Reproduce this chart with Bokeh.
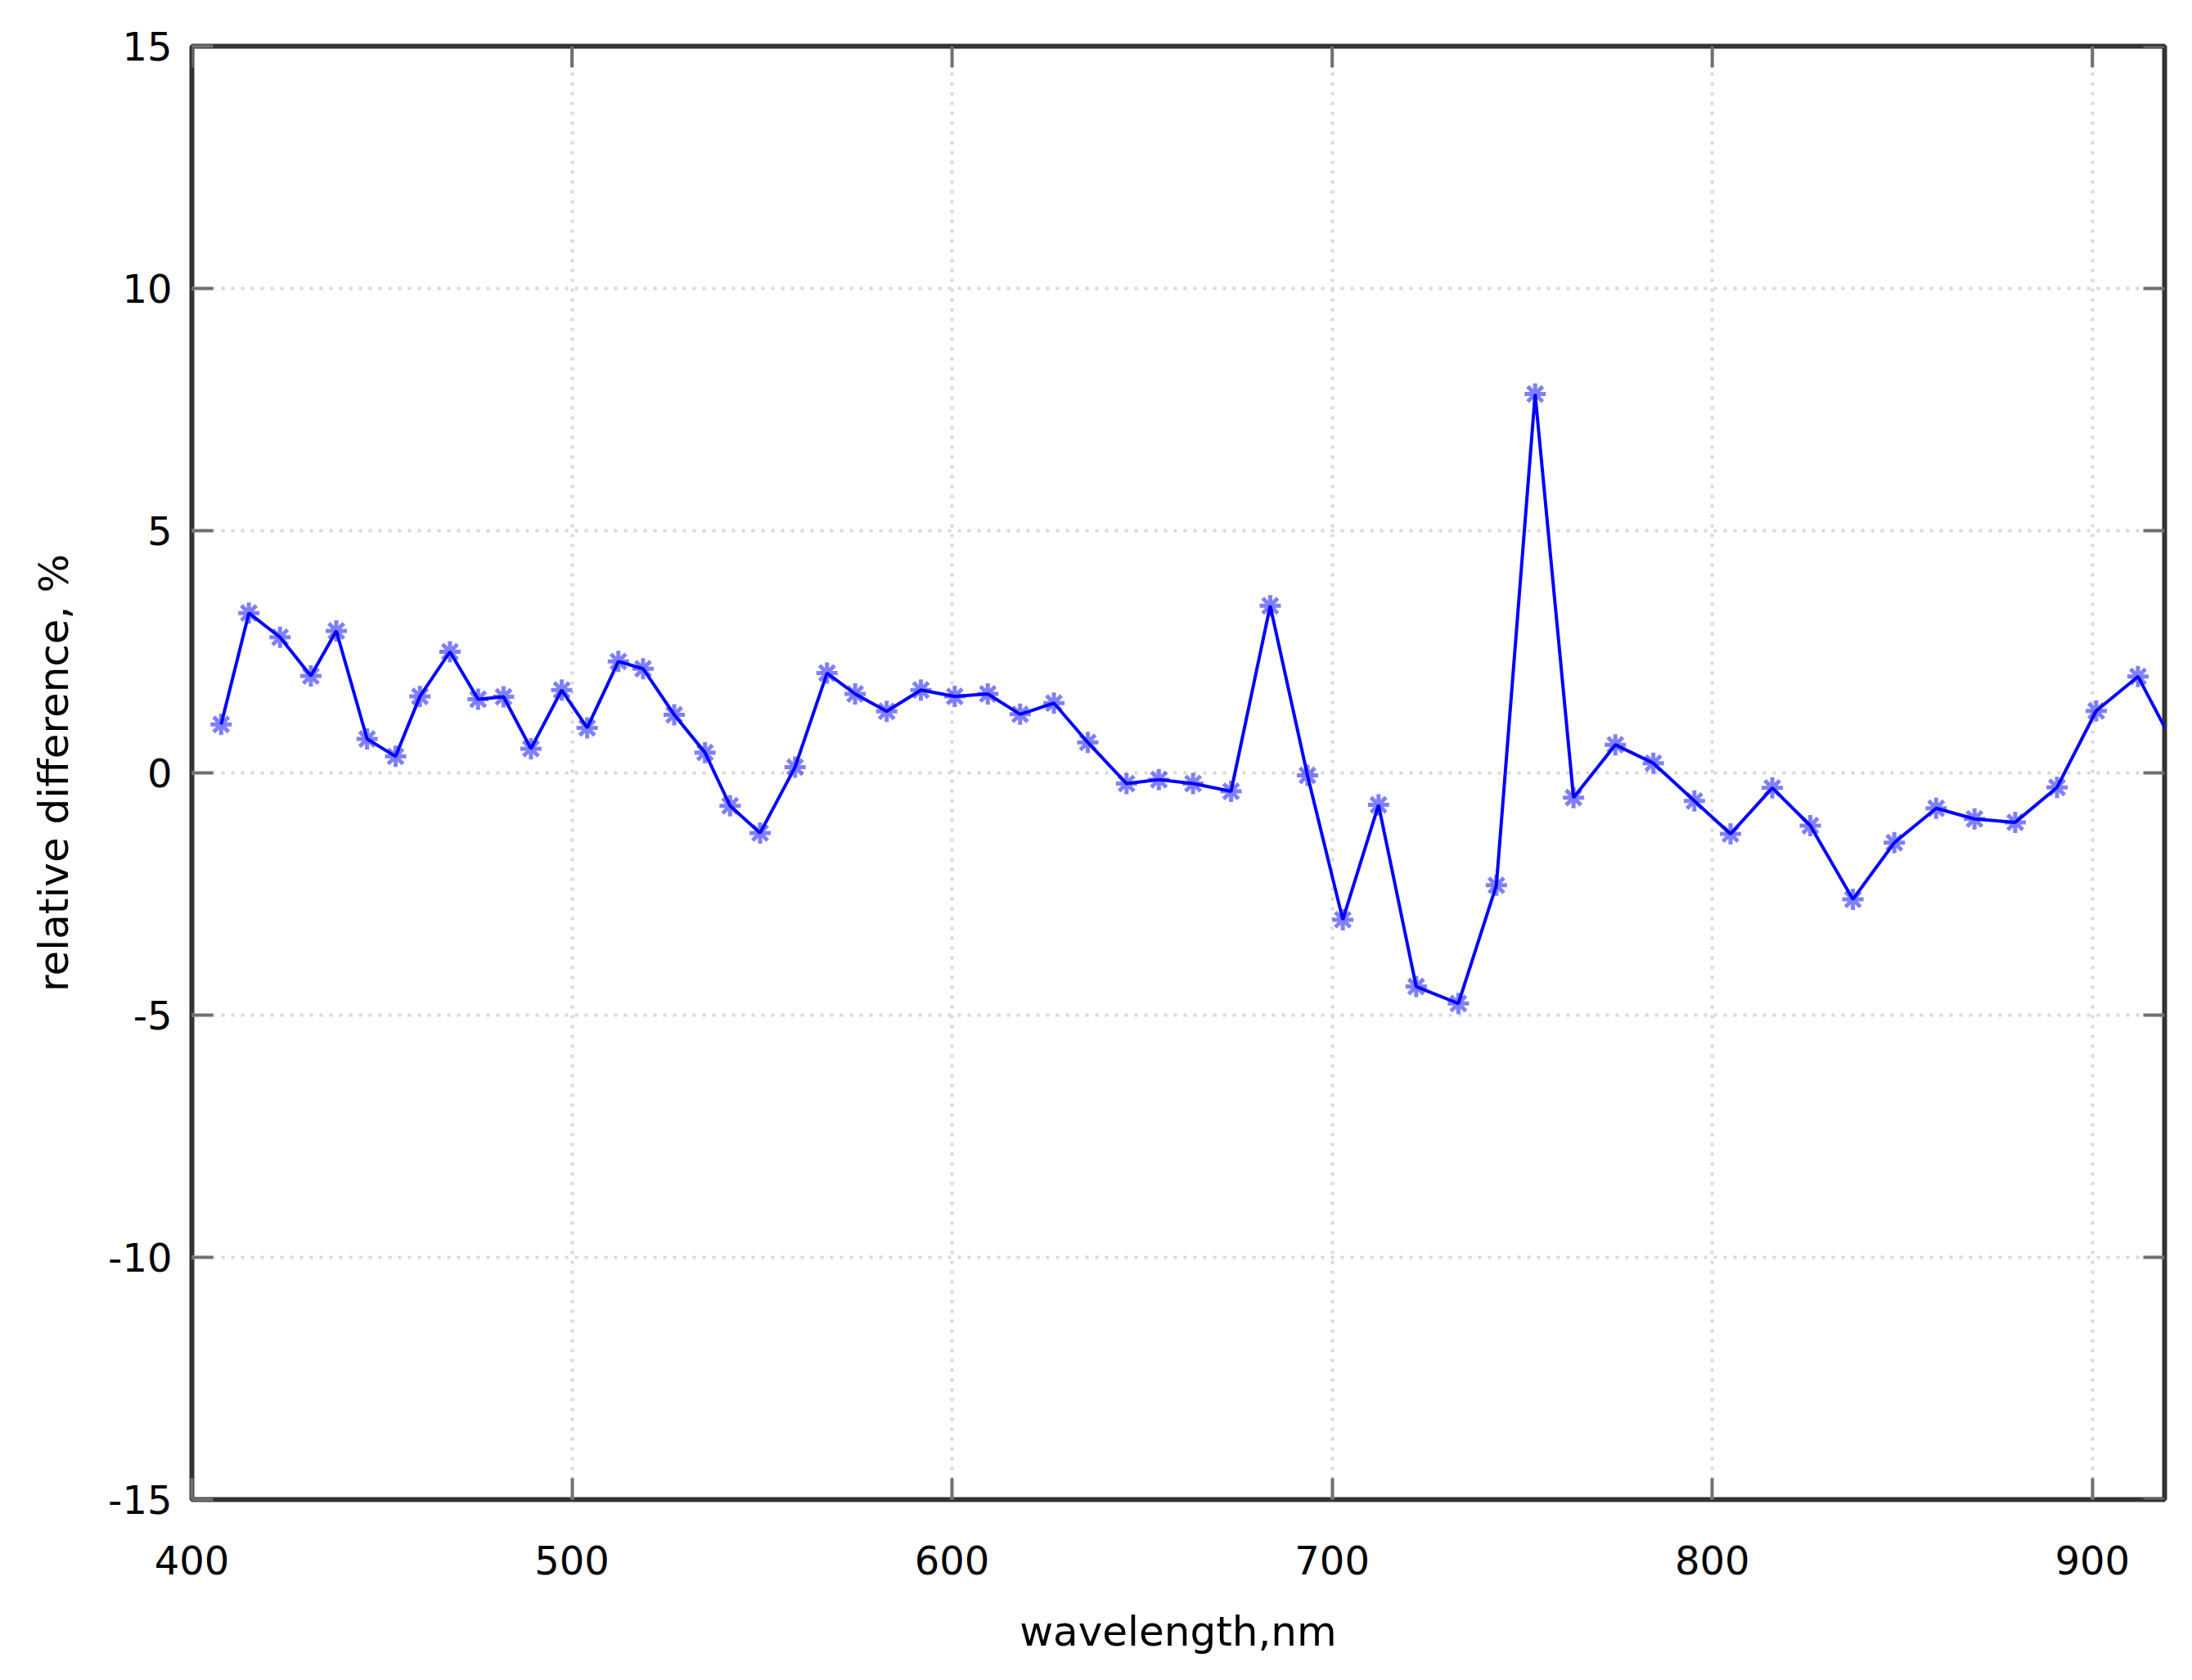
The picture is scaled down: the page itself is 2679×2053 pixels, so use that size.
from bokeh.plotting import figure
from bokeh.models import FixedTicker, Range1d
from bokeh.embed import file_html
from bokeh.resources import INLINE

# ---- data ----
wavelength = [407.7, 415.0, 423.2, 431.3, 438.0, 446.1, 453.6, 460.0, 467.9, 475.3,
              482.0, 489.2, 497.3, 504.0, 512.2, 518.7, 526.9, 535.0, 541.6, 549.5,
              558.7, 567.1, 574.5, 582.8, 591.8, 600.7, 609.4, 617.9, 626.8, 635.7,
              645.9, 654.4, 663.4, 673.4, 683.7, 693.5, 702.8, 712.2, 722.1, 733.2,
              743.2, 753.4, 763.5, 774.5, 784.5, 795.3, 804.8, 815.8, 825.8, 837.0,
              847.9, 858.9, 869.0, 879.7, 890.7, 901.0, 912.0, 923.0]
rel_diff = [1.0, 3.3, 2.8, 2.0, 2.93, 0.7, 0.34, 1.58, 2.5, 1.52,
            1.57, 0.5, 1.71, 0.93, 2.3, 2.15, 1.2, 0.42, -0.68, -1.24,
            0.12, 2.06, 1.63, 1.27, 1.71, 1.58, 1.63, 1.21, 1.44, 0.63,
            -0.22, -0.14, -0.22, -0.38, 3.45, -0.05, -3.03, -0.66, -4.41, -4.76,
            -2.32, 7.82, -0.51, 0.58, 0.2, -0.58, -1.26, -0.31, -1.09, -2.61,
            -1.44, -0.73, -0.95, -1.02, -0.3, 1.28, 1.99, 0.35]

x_ticks = [400, 500, 600, 700, 800, 900]
x_tick_labels = ["400", "500", "600", "700", "800", "900"]
y_ticks = [-15, -10, -5, 0, 5, 10, 15]
y_tick_labels = ["-15", "-10", "-5", "0", "5", "10", "15"]
x_label = "wavelength,nm"
y_label = "relative difference, %"

X_START, X_END = 400, 919
Y_START, Y_END = -15, 15
FRAME_W, FRAME_H = 2411, 1776

FONT = "DejaVu Sans"
TICK_FS = "48px"
LABEL_FS = "50px"
TICK_LEN = 26
TICK_COLOR = "#707070"

p = figure(frame_width=FRAME_W, frame_height=FRAME_H,
           x_range=Range1d(X_START, X_END), y_range=Range1d(Y_START, Y_END),
           output_backend="svg", toolbar_location=None,
           min_border_left=234, min_border_right=23,
           min_border_top=56, min_border_bottom=212,
           background_fill_color="white", border_fill_color="white")

p.outline_line_color = "#333333"
p.outline_line_width = 6

# grid
for g, ticks in ((p.xgrid, x_ticks), (p.ygrid, y_ticks)):
    g.ticker = FixedTicker(ticks=ticks)
    g.grid_line_color = "#d9d9d9"
    g.grid_line_width = 4
    g.grid_line_dash = "4 8"

xa = p.xaxis[0]
ya = p.yaxis[0]
for ax, ticks, labels in ((xa, x_ticks, x_tick_labels), (ya, y_ticks, y_tick_labels)):
    ax.ticker = FixedTicker(ticks=ticks)
    ax.major_label_overrides = {t: l for t, l in zip(ticks, labels)}
    ax.axis_line_color = None
    ax.major_tick_in = TICK_LEN
    ax.major_tick_out = 0
    ax.major_tick_line_color = TICK_COLOR
    ax.major_tick_line_width = 4
    ax.minor_tick_line_color = None
    ax.major_label_text_font = FONT
    ax.major_label_text_color = "black"
    ax.major_label_text_font_size = TICK_FS
    ax.axis_label_text_font = FONT
    ax.axis_label_text_font_size = LABEL_FS
    ax.axis_label_text_font_style = "normal"
    ax.axis_label_text_color = "black"
xa.major_label_standoff = 56
ya.major_label_standoff = 24
xa.axis_label = x_label
ya.axis_label = y_label
xa.axis_label_standoff = 38
ya.axis_label_standoff = 34

# mirrored ticks on the top and right borders (gnuplot style)
dy = TICK_LEN * (Y_END - Y_START) / FRAME_H
dx = TICK_LEN * (X_END - X_START) / FRAME_W
p.segment(x0=x_ticks, y0=[Y_END] * len(x_ticks), x1=x_ticks, y1=[Y_END - dy] * len(x_ticks),
          line_color=TICK_COLOR, line_width=4)
p.segment(x0=[X_END] * len(y_ticks), y0=y_ticks, x1=[X_END - dx] * len(y_ticks), y1=y_ticks,
          line_color=TICK_COLOR, line_width=4)

# data
p.line(wavelength, rel_diff, line_color="#0000ff", line_width=4)
p.scatter(wavelength, rel_diff, marker="asterisk", size=26,
          line_color="#0000ff", line_width=5, line_alpha=0.5)

open("out.html", "w").write(file_html(p, INLINE))
